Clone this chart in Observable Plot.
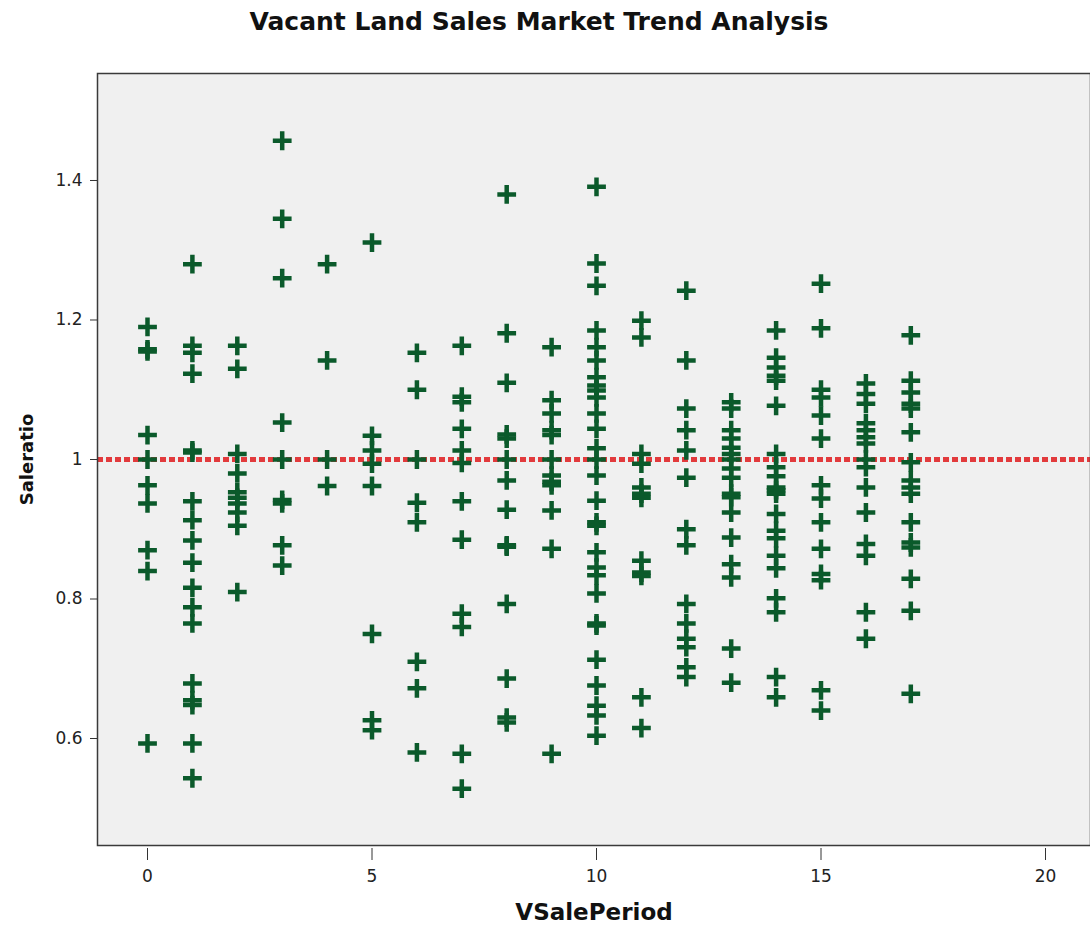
<!DOCTYPE html>
<html>
<head>
<meta charset="utf-8">
<script src="https://cdn.jsdelivr.net/npm/d3@7"></script>
<script src="https://cdn.jsdelivr.net/npm/@observablehq/plot@0.6"></script>
<style>
  body { margin: 0; background: #fff; }
  #title { height: 40px; padding-top: 7px; line-height: 40px; text-align: center; font: bold 25px "DejaVu Sans", sans-serif; color: #111; padding-right: 12px; }
</style>
</head>
<body>
<div id="title">Vacant Land Sales Market Trend Analysis</div>
<div id="chart"></div>
<script>
// Sale ratios read per sale period (VSalePeriod 0..17)
const period0  = [1.19, 1.158, 1.155, 1.035, 1.0, 0.963, 0.937, 0.87, 0.84, 0.593];
const period1  = [1.28, 1.163, 1.153, 1.123, 1.013, 1.01, 0.94, 0.913, 0.884, 0.852, 0.816, 0.788, 0.765, 0.679, 0.655, 0.648, 0.593, 0.543];
const period2  = [1.163, 1.13, 1.008, 0.98, 0.953, 0.945, 0.937, 0.924, 0.905, 0.81];
const period3  = [1.457, 1.345, 1.26, 1.053, 1.0, 0.942, 0.937, 0.877, 0.848];
const period4  = [1.28, 1.142, 1.0, 0.962];
const period5  = [1.311, 1.034, 1.013, 0.994, 0.962, 0.75, 0.626, 0.612];
const period6  = [1.153, 1.1, 1.0, 0.938, 0.91, 0.71, 0.672, 0.58];
const period7  = [1.163, 1.09, 1.082, 1.044, 1.013, 0.995, 0.94, 0.885, 0.779, 0.76, 0.578, 0.528];
const period8  = [1.38, 1.181, 1.11, 1.036, 1.03, 1.0, 0.97, 0.928, 0.877, 0.875, 0.793, 0.686, 0.63, 0.623];
const period9  = [1.161, 1.085, 1.066, 1.042, 1.035, 1.0, 0.977, 0.968, 0.963, 0.927, 0.872, 0.578];
const period10 = [1.391, 1.281, 1.249, 1.185, 1.161, 1.142, 1.118, 1.106, 1.099, 1.089, 1.066, 1.044, 1.016, 1.0, 0.977, 0.941, 0.91, 0.905, 0.867, 0.845, 0.834, 0.808, 0.765, 0.762, 0.713, 0.676, 0.647, 0.633, 0.604];
const period11 = [1.199, 1.175, 1.008, 0.994, 0.96, 0.951, 0.945, 0.855, 0.838, 0.833, 0.659, 0.615];
const period12 = [1.242, 1.142, 1.073, 1.042, 1.013, 0.974, 0.9, 0.877, 0.793, 0.765, 0.743, 0.731, 0.702, 0.688];
const period13 = [1.082, 1.073, 1.042, 1.03, 1.017, 1.008, 1.0, 0.987, 0.974, 0.951, 0.946, 0.924, 0.888, 0.85, 0.831, 0.729, 0.68];
const period14 = [1.185, 1.146, 1.132, 1.12, 1.113, 1.077, 1.008, 0.989, 0.976, 0.96, 0.956, 0.951, 0.922, 0.898, 0.887, 0.862, 0.844, 0.801, 0.781, 0.688, 0.659];
const period15 = [1.252, 1.188, 1.1, 1.089, 1.063, 1.03, 0.963, 0.944, 0.91, 0.872, 0.836, 0.827, 0.669, 0.64];
const period16 = [1.109, 1.094, 1.08, 1.052, 1.042, 1.032, 1.023, 1.0, 0.989, 0.96, 0.924, 0.879, 0.862, 0.781, 0.743];
const period17 = [1.178, 1.113, 1.096, 1.08, 1.073, 1.039, 0.996, 0.97, 0.96, 0.951, 0.91, 0.881, 0.874, 0.829, 0.783, 0.664];

const periodLists = [period0, period1, period2, period3, period4, period5, period6, period7, period8,
  period9, period10, period11, period12, period13, period14, period15, period16, period17];
const xTicks = [0, 5, 10, 15, 20];
const yTicks = [0.6, 0.8, 1.0, 1.2, 1.4];
const referenceRatio = 1.0;
const xLabel = "VSalePeriod";
const yLabel = "Saleratio";

const sales = periodLists.flatMap((list, period) => list.map(ratio => ({period, ratio})));

const font = "DejaVu Sans, sans-serif";
const chart = Plot.plot({
  width: 1090,
  height: 881,
  marginTop: 26,
  marginLeft: 97,
  marginRight: 0,
  marginBottom: 83,
  style: {fontFamily: font, fontSize: "17px", color: "#222", background: "#fff"},
  x: {domain: [-1.1136, 21.002]},
  y: {domain: [0.4466, 1.5534]},
  marks: [
    Plot.frame({fill: "#f0f0f0", stroke: "none"}),
    Plot.ruleY([referenceRatio], {stroke: "#e23a3c", strokeWidth: 5, strokeDasharray: "6,3"}),
    Plot.dot(sales, {x: "period", y: "ratio", symbol: "plus", r: 6.1, stroke: "#0b5a2b", strokeWidth: 4.5}),
    Plot.frame({stroke: "#3a3a3a", strokeWidth: 1.5}),
    Plot.axisX({ticks: xTicks, tickSize: 12, dy: 3, tickPadding: 9, label: null, stroke: "#333"}),
    Plot.axisY({ticks: yTicks, tickSize: 7, tickPadding: 8, tickFormat: d3.format("~g"), label: null, stroke: "#333"}),
    Plot.text([xLabel], {frameAnchor: "bottom", dy: 67, text: d => d, fontSize: 23, fontWeight: "bold", fill: "#111", lineAnchor: "middle"}),
    Plot.text([yLabel], {frameAnchor: "left", dx: -70, rotate: -90, textAnchor: "middle", text: d => d, fontSize: 18, fontWeight: "bold", fill: "#111"})
  ]
});
document.getElementById("chart").appendChild(chart);
</script>
</body>
</html>
